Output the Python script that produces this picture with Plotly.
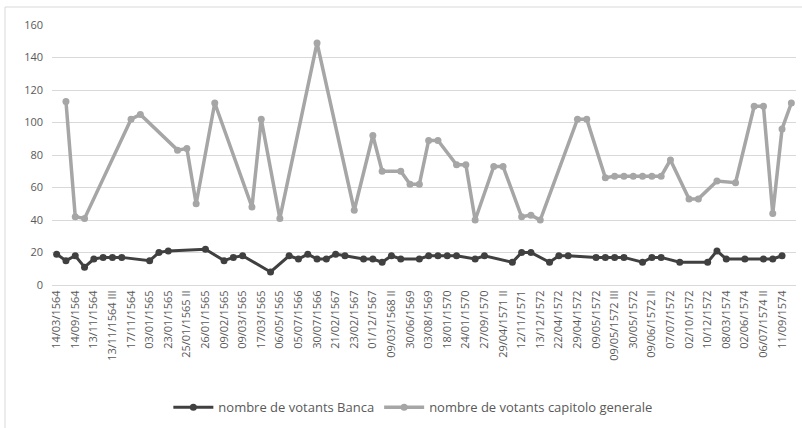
import plotly.graph_objects as go

n_points = 80
tick_labels = ["14/03/1564", "14/09/1564", "13/11/1564", "13/11/1564 III", "17/11/1564",
               "03/01/1565", "23/01/1565", "25/01/1565 II", "26/01/1565", "09/02/1565",
               "09/03/1565", "17/03/1565", "06/05/1565", "05/07/1566", "30/07/1566",
               "21/02/1567", "23/02/1567", "01/12/1567", "09/03/1568 II", "30/06/1569",
               "03/08/1569", "18/01/1570", "24/01/1570", "27/09/1570", "29/04/1571 II",
               "12/11/1571", "13/12/1572", "22/04/1572", "29/04/1572", "09/05/1572",
               "09/05/1572 III", "30/05/1572", "09/06/1572 II", "07/07/1572", "02/10/1572",
               "10/12/1572", "08/03/1574", "02/06/1574", "06/07/1574 II", "11/09/1574"]
tick_positions = list(range(0, 80, 2))

banca = {0: 19, 1: 15, 2: 18, 3: 11, 4: 16, 5: 17, 6: 17, 7: 17, 10: 15, 11: 20, 12: 21,
         16: 22, 18: 15, 19: 17, 20: 18, 23: 8, 25: 18, 26: 16, 27: 19, 28: 16, 29: 16,
         30: 19, 31: 18, 33: 16, 34: 16, 35: 14, 36: 18, 37: 16, 39: 16, 40: 18, 41: 18,
         42: 18, 43: 18, 45: 16, 46: 18, 49: 14, 50: 20, 51: 20, 53: 14, 54: 18, 55: 18,
         58: 17, 59: 17, 60: 17, 61: 17, 63: 14, 64: 17, 65: 17, 67: 14, 70: 14, 71: 21,
         72: 16, 74: 16, 76: 16, 77: 16, 78: 18}
capitolo = {1: 113, 2: 42, 3: 41, 8: 102, 9: 105, 13: 83, 14: 84, 15: 50, 17: 112,
            21: 48, 22: 102, 24: 41, 28: 149, 32: 46, 34: 92, 35: 70, 37: 70, 38: 62,
            39: 62, 40: 89, 41: 89, 43: 74, 44: 74, 45: 40, 47: 73, 48: 73, 50: 42,
            51: 43, 52: 40, 56: 102, 57: 102, 59: 66, 60: 67, 61: 67, 62: 67, 63: 67,
            64: 67, 65: 67, 66: 77, 68: 53, 69: 53, 71: 64, 73: 63, 75: 110, 76: 110,
            77: 44, 78: 96, 79: 112}

x = list(range(n_points))
y_banca = [banca.get(i) for i in x]
y_cap = [capitolo.get(i) for i in x]

font_family = "Open Sans, Liberation Sans, sans-serif"
txt_color = "#595959"

fig = go.Figure()
fig.add_trace(go.Scatter(x=x, y=y_banca, name="nombre de votants Banca", mode="lines+markers",
                         connectgaps=True,
                         line=dict(color="#404040", width=3),
                         marker=dict(color="#404040", size=7)))
fig.add_trace(go.Scatter(x=x, y=y_cap, name="nombre de votants capitolo generale", mode="lines+markers",
                         connectgaps=True,
                         line=dict(color="#a6a6a6", width=3.5),
                         marker=dict(color="#a6a6a6", size=7)))

fig.update_layout(
    width=802, height=428,
    margin=dict(l=52, r=6, t=25, b=143),
    paper_bgcolor="white", plot_bgcolor="white",
    font=dict(family=font_family, size=11, color=txt_color),
    showlegend=True,
    legend=dict(orientation="h", x=0.485, xanchor="center", y=-0.47, yanchor="middle",
                font=dict(size=13, color=txt_color), itemwidth=40, tracegroupgap=0),
    xaxis=dict(range=[-0.5, 79.5], tickmode="array", tickvals=tick_positions,
               ticktext=tick_labels, tickangle=-90, showgrid=False, zeroline=False,
               showline=True, linecolor="#d9d9d9", linewidth=1, ticks="",
               tickfont=dict(size=11, color=txt_color)),
    yaxis=dict(range=[0, 160], dtick=20, showgrid=True, gridcolor="#d9d9d9", gridwidth=1,
               zeroline=False, showline=False, ticks="", ticklabelstandoff=8,
               tickfont=dict(size=11, color=txt_color)),
    shapes=[dict(type="rect", xref="paper", yref="paper",
                 x0=(5 - 52) / 744, x1=(806 - 52) / 744,
                 y0=(285 - 432) / 260, y1=(285 - 7) / 260,
                 line=dict(color="#d9d9d9", width=1), layer="below")],
)

fig.write_html("out.html")
